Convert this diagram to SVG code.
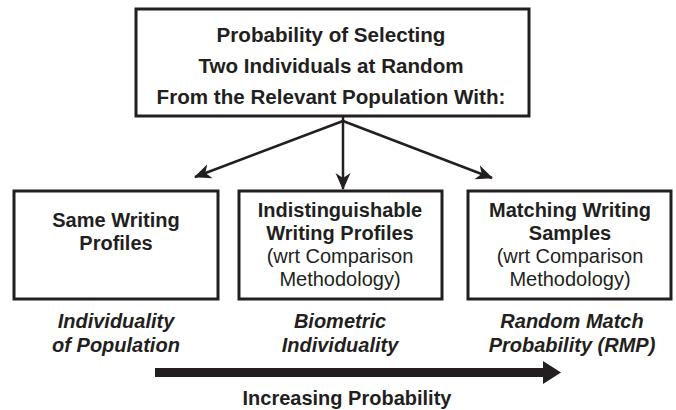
<svg xmlns="http://www.w3.org/2000/svg" width="676" height="410" viewBox="0 0 676 410">
<defs>
<style>
.box{fill:#fff;stroke:#231f20;stroke-width:3}
.t{font-family:"Liberation Sans",Arial,sans-serif;font-size:20px;fill:#231f20;text-anchor:middle}
.b{font-weight:bold}
.big{font-size:20.6px}
.bi{font-weight:bold;font-style:italic}
.conn{stroke:#231f20;stroke-width:2.5;fill:none}
</style>
<marker id="ah" markerUnits="userSpaceOnUse" markerWidth="18" markerHeight="16" refX="16" refY="8" orient="auto">
<path d="M0,0.5 L17,8 L0,15.5 L5,8 Z" fill="#231f20"/>
</marker>
</defs>
<rect width="676" height="410" fill="#fff"/>
<g id="top">
<rect class="box" x="136" y="9" width="393" height="107"/>
<text class="t b big" x="331" y="42">Probability of Selecting</text>
<text class="t b big" x="331" y="73">Two Individuals at Random</text>
<text class="t b big" x="331" y="104">From the Relevant Population With:</text>
</g>
<g id="connectors">
<line class="conn" x1="343" y1="121" x2="195" y2="177" marker-end="url(#ah)"/>
<line class="conn" x1="343" y1="121" x2="343" y2="189" marker-end="url(#ah)"/>
<line class="conn" x1="343" y1="121" x2="492" y2="178" marker-end="url(#ah)"/>
<path d="M343,116 L343,121" class="conn"/>
</g>
<g id="same">
<rect class="box" x="14" y="191" width="204" height="108"/>
<text class="t b" x="116" y="227">Same Writing</text>
<text class="t b" x="116" y="250">Profiles</text>
</g>
<g id="indistinguishable">
<rect class="box" x="239" y="191" width="203" height="108"/>
<text class="t b" x="340" y="217">Indistinguishable</text>
<text class="t b" x="340" y="240">Writing Profiles</text>
<text class="t" x="340" y="263">(wrt Comparison</text>
<text class="t" x="340" y="286">Methodology)</text>
</g>
<g id="matching">
<rect class="box" x="468" y="191" width="203" height="108"/>
<text class="t b" x="570" y="217">Matching Writing</text>
<text class="t b" x="570" y="240">Samples</text>
<text class="t" x="570" y="263">(wrt Comparison</text>
<text class="t" x="570" y="286">Methodology)</text>
</g>
<g id="labels">
<text class="t bi" x="116" y="328">Individuality</text>
<text class="t bi" x="116" y="352">of Population</text>
<text class="t bi" x="340" y="328">Biometric</text>
<text class="t bi" x="340" y="352">Individuality</text>
<text class="t bi" x="572" y="328">Random Match</text>
<text class="t bi" x="572" y="352">Probability (RMP)</text>
</g>
<g id="increasing">
<path d="M155,368 L543,368 L543,361 L561,372.5 L543,384 L543,377 L155,377 Z" fill="#231f20"/>
<text class="t b" x="347" y="405">Increasing Probability</text>
</g>
</svg>
